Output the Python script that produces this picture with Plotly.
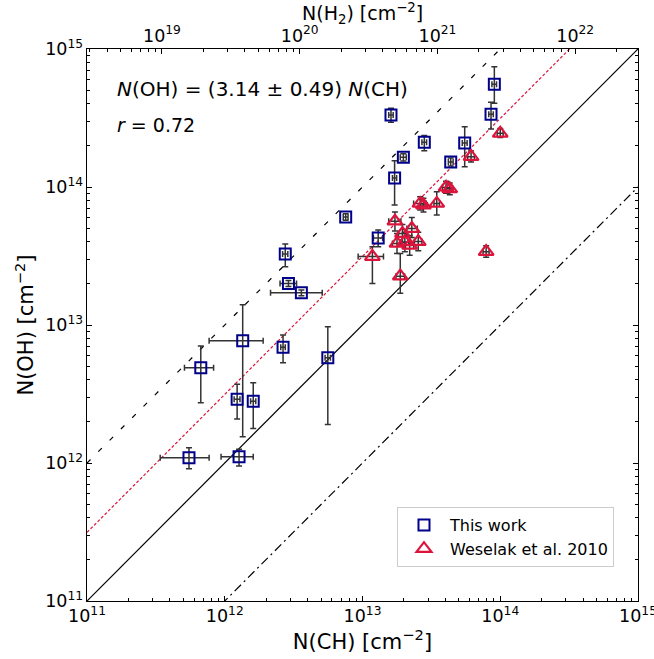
import math
import plotly.graph_objects as go

# ---- data: This work (N(CH), N(OH)) with lower/upper bounds ----
ch_this = [5.5e11, 1.27e12, 6.7e11, 1.35e12, 1.23e12, 1.61e12, 2.65e12, 5.6e12, 2.9e12, 3.6e12,
           2.75e12, 7.55e12, 1.30e13, 1.61e13, 1.71e13, 1.98e13, 2.81e13, 4.37e13, 5.52e13, 8.57e13, 9.06e13]
ch_this_lo = [3.4e11, 9.4e11, 5.1e11, 7.7e11, 1.17e12, 1.54e12, 2.55e12, 5.35e12, 2.52e12, 2.15e12,
              2.63e12, 7.25e12, 1.2e13, 1.55e13, 1.65e13, 1.88e13, 2.7e13, 4.2e13, 5.3e13, 8.25e13, 8.7e13]
ch_this_hi = [7.7e11, 1.61e12, 8.3e11, 1.9e12, 1.29e12, 1.68e12, 2.75e12, 5.85e12, 3.32e12, 5.1e12,
              2.87e12, 7.85e12, 1.4e13, 1.67e13, 1.77e13, 2.08e13, 2.92e13, 4.55e13, 5.75e13, 8.9e13, 9.4e13]
oh_this = [1.09e12, 1.11e12, 4.9e12, 7.7e12, 2.9e12, 2.8e12, 6.9e12, 5.8e12, 2.0e13, 1.71e13,
           3.27e13, 6.07e13, 4.27e13, 3.33e14, 1.16e14, 1.64e14, 2.11e14, 1.52e14, 2.08e14, 3.36e14, 5.55e14]
oh_this_lo = [9.1e11, 9.5e11, 2.73e12, 1.55e12, 2.08e12, 1.78e12, 5.33e12, 1.9e12, 1.9e13, 1.63e13,
              2.64e13, 5.75e13, 3.69e13, 2.94e14, 7.4e13, 1.54e14, 1.83e14, 1.42e14, 1.40e14, 2.63e14, 4.05e14]
oh_this_hi = [1.29e12, 1.26e12, 7.05e12, 1.4e13, 3.72e12, 3.82e12, 8.47e12, 9.7e12, 2.1e13, 1.79e13,
              3.86e13, 6.4e13, 4.88e13, 3.72e14, 1.55e14, 1.74e14, 2.36e14, 1.62e14, 2.73e14, 4.11e14, 7.45e14]

# ---- data: Weselak et al. 2010 ----
ch_wes = [1.18e13, 1.88e13, 7.9e13, 1.0e14, 6.14e13, 4.04e13, 4.3e13, 2.62e13, 2.77e13, 3.46e13,
          1.72e13, 2.28e13, 1.78e13, 2.03e13, 2.2e13, 2.54e13, 1.95e13]
ch_wes_lo = [9.3e12, 1.75e13, 7.5e13, 9.5e13, 5.8e13, 3.8e13, 4.05e13, 2.35e13, 2.6e13, 3.3e13,
             1.55e13, 2.1e13, 1.65e13, 1.9e13, 2.05e13, 2.38e13, 1.82e13]
ch_wes_hi = [1.42e13, 2.02e13, 8.3e13, 1.05e14, 6.5e13, 4.3e13, 4.55e13, 2.9e13, 2.95e13, 3.62e13,
             1.9e13, 2.5e13, 1.92e13, 2.17e13, 2.35e13, 2.7e13, 2.08e13]
oh_wes = [3.13e13, 2.26e13, 3.4e13, 2.45e14, 1.66e14, 9.96e13, 9.7e13, 7.6e13, 7.4e13, 7.6e13,
          5.65e13, 5.0e13, 3.9e13, 4.0e13, 3.78e13, 4.02e13, 4.6e13]
oh_wes_lo = [2.0e13, 1.7e13, 3.1e13, 2.28e14, 1.52e14, 9.0e13, 8.8e13, 6.8e13, 6.6e13, 6.27e13,
             4.8e13, 4.3e13, 3.3e13, 3.4e13, 3.2e13, 3.45e13, 3.95e13]
oh_wes_hi = [3.69e13, 3.3e13, 3.75e13, 2.65e14, 1.82e14, 1.1e14, 1.07e14, 8.5e13, 8.3e13, 9.25e13,
             6.6e13, 6.0e13, 4.6e13, 4.7e13, 4.45e13, 4.7e13, 5.35e13]

# reference ratio lines N(OH) = k * N(CH)
line_ch = [1e11, 1e15]
ratio_solid = 1.0
ratio_dash = 10.0
ratio_dashdot = 0.1
ratio_fit = 3.14
ch_to_h2 = 3.5e-8  # N(CH)/N(H2)

FONT = "DejaVu Sans"
ERRC = "#333333"

def diffs(v, lo, hi):
    return [h - a for a, h in zip(v, hi)], [a - l for a, l in zip(v, lo)]

fig = go.Figure()

for k, dash, col in [(ratio_solid, "solid", "black"), (ratio_dash, "5px,11px", "black"),
                     (ratio_dashdot, "9px,4px,2px,4px", "black"), (ratio_fit, "3px,2px", "#DC143C")]:
    fig.add_trace(go.Scatter(x=line_ch, y=[k * c for c in line_ch], mode="lines",
                             line=dict(color=col, width=1.2, dash=dash),
                             showlegend=False, hoverinfo="skip"))

# invisible trace so that the top N(H2) axis is drawn
fig.add_trace(go.Scatter(x=[c / ch_to_h2 for c in line_ch], y=line_ch, xaxis="x2", mode="lines",
                         line=dict(width=0), opacity=0, showlegend=False, hoverinfo="skip"))

xp, xm = diffs(ch_this, ch_this_lo, ch_this_hi)
yp, ym = diffs(oh_this, oh_this_lo, oh_this_hi)
fig.add_trace(go.Scatter(x=ch_this, y=oh_this, mode="markers", name="This work",
                         marker=dict(symbol="square-open", size=11, color="#00008B",
                                     line=dict(width=2, color="#00008B")),
                         error_x=dict(type="data", symmetric=False, array=xp, arrayminus=xm,
                                      color=ERRC, thickness=1.5, width=3),
                         error_y=dict(type="data", symmetric=False, array=yp, arrayminus=ym,
                                      color=ERRC, thickness=1.5, width=3)))

xp, xm = diffs(ch_wes, ch_wes_lo, ch_wes_hi)
yp, ym = diffs(oh_wes, oh_wes_lo, oh_wes_hi)
fig.add_trace(go.Scatter(x=ch_wes, y=oh_wes, mode="markers", name="Weselak et al. 2010",
                         marker=dict(symbol="triangle-up-open", size=13, color="#DC143C",
                                     line=dict(width=2.2, color="#DC143C")),
                         error_x=dict(type="data", symmetric=False, array=xp, arrayminus=xm,
                                      color=ERRC, thickness=1.5, width=3),
                         error_y=dict(type="data", symmetric=False, array=yp, arrayminus=ym,
                                      color=ERRC, thickness=1.5, width=3)))

axcommon = dict(type="log", dtick=1, exponentformat="power", showgrid=False, zeroline=False,
                showline=True, linecolor="black", linewidth=1.2, ticks="inside", ticklen=5,
                tickwidth=1, tickcolor="black", ticklabeloverflow="allow", automargin=False,
                tickfont=dict(family=FONT, size=14, color="black"),
                minor=dict(ticks="inside", ticklen=3, tickwidth=0.8, tickcolor="black", dtick="D1",
                           showgrid=False))

h2_lo = 11 - math.log10(ch_to_h2)
h2_hi = 15 - math.log10(ch_to_h2)

fig.update_layout(
    width=654, height=659,
    margin=dict(l=87, r=16, t=49, b=58, autoexpand=False),
    plot_bgcolor="white", paper_bgcolor="white",
    font=dict(family=FONT, color="black"),
    xaxis=dict(range=[11, 15], mirror=False,
               title=dict(text="N(CH) [cm<sup>−2</sup>]", font=dict(family=FONT, size=21), standoff=4),
               **axcommon),
    yaxis=dict(range=[11, 15], mirror="ticks",
               title=dict(text="N(OH) [cm<sup>−2</sup>]", font=dict(family=FONT, size=21), standoff=5),
               **axcommon),
    xaxis2=dict(range=[h2_lo, h2_hi], overlaying="x", side="top", anchor="y", **axcommon),
    legend=dict(x=0.5626, y=0.0616, xanchor="left", yanchor="bottom", itemwidth=42,
                bgcolor="white", bordercolor="#cccccc", borderwidth=1,
                font=dict(family=FONT, size=16, color="black")),
    annotations=[
        dict(text="N(H<sub>2</sub>) [cm<sup>−2</sup>]", xref="paper", yref="paper",
             x=0.5, y=1.064, xanchor="center", yanchor="middle", showarrow=False,
             font=dict(family=FONT, size=19, color="black")),
        dict(text="<i>N</i>(OH) = (3.14 ± 0.49) <i>N</i>(CH)", xref="paper", yref="paper",
             x=0.0517, y=0.9275, xanchor="left", yanchor="middle", showarrow=False,
             font=dict(family=FONT, size=20, color="black")),
        dict(text="<i>r</i> = 0.72", xref="paper", yref="paper",
             x=0.0517, y=0.862, xanchor="left", yanchor="middle", showarrow=False,
             font=dict(family=FONT, size=19, color="black")),
    ],
)

fig.write_html("out.html", config={"displayModeBar": False},
               post_script="document.body.style.margin='0';")
